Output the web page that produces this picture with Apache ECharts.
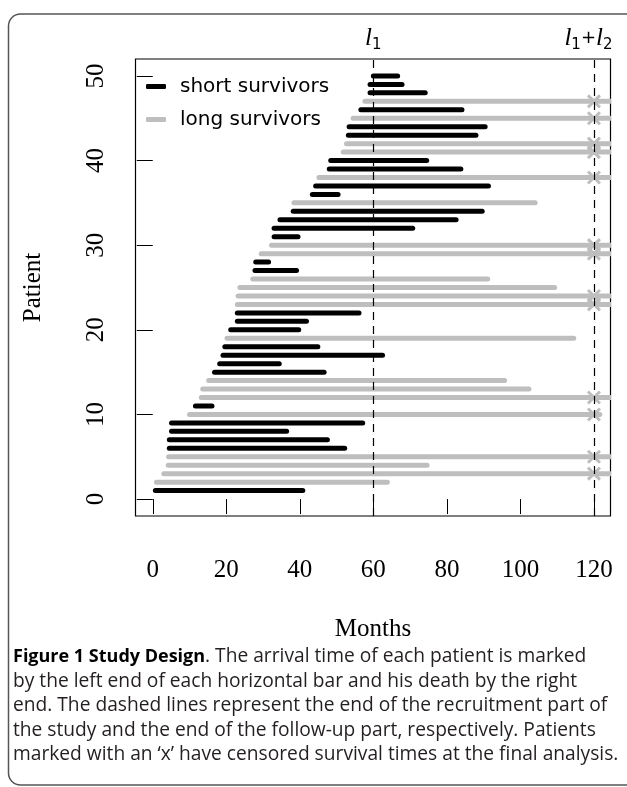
<!DOCTYPE html>
<html>
<head>
<meta charset="utf-8">
<script src="https://cdn.jsdelivr.net/npm/echarts@6/dist/echarts.min.js"></script>
<style>
html,body{margin:0;padding:0;background:#fff;}
#chart{width:627px;height:787px;}
</style>
</head>
<body>
<div id="chart"></div>
<script>
// ---- data ----
const patients = [1,2,3,4,5,6,7,8,9,10,11,12,13,14,15,16,17,18,19,20,21,22,23,24,25,26,27,28,29,30,31,32,33,34,35,36,37,38,39,40,41,42,43,44,45,46,47,48,49,50];
const arrival = [0.7,1.0,3.0,4.2,4.3,4.5,4.5,5.1,5.1,10.0,11.6,13.2,13.6,15.2,16.8,18.2,19.1,19.6,20.2,21.2,23.0,23.0,23.0,23.2,23.7,27.2,27.8,28.0,29.5,32.3,33.0,33.0,34.6,38.2,38.4,43.4,44.3,45.2,48.0,48.4,51.8,52.7,53.2,53.4,54.5,56.6,57.7,59.1,59.1,60.0];
const exitTime = [40.8,63.8,126,74.6,126,52.2,47.5,36.4,57.1,121.6,16.1,126,102.3,95.7,46.6,34.4,62.5,44.9,114.5,39.7,41.8,56.1,126,126,109.3,91.1,39.1,31.5,126,126,39.5,70.7,82.5,89.6,104.0,50.4,91.3,126,83.8,74.5,126,126,87.9,90.4,126,84.1,126,74.1,67.8,66.6];
const survivorGroup = ['S','L','L','L','L','S','S','S','S','L','S','L','L','L','S','S','S','S','L','S','S','S','L','L','L','L','S','S','L','L','S','S','S','S','L','S','S','L','S','S','L','L','S','S','L','S','L','S','S','S'];
const censored = [0,0,1,0,1,0,0,0,0,1,0,1,0,0,0,0,0,0,0,0,0,0,1,1,0,0,0,0,1,1,0,0,0,0,0,0,0,1,0,0,1,1,0,0,1,0,1,0,0,0];
const censorTime = 120;
const recruitEnd = 60;
const followEnd = 120;
const xTicks = [0,20,40,60,80,100,120];
const yTicks = [0,10,20,30,40,50];

// ---- build series data ----
const shortData = [], longData = [], markData = [];
patients.forEach((p, i) => {
  const item = [arrival[i], exitTime[i], p];
  if (survivorGroup[i] === 'S') shortData.push(item); else longData.push(item);
  if (censored[i]) markData.push([censorTime, p]);
});

const serif = 'Liberation Serif';
const BLACK = '#000000', GRAY = '#bebebe';

function barItem(params, api) {
  const a = api.coord([api.value(0), api.value(2)]);
  const b = api.coord([api.value(1), api.value(2)]);
  return {
    type: 'line',
    shape: {x1: a[0], y1: a[1], x2: b[0], y2: b[1]},
    style: {stroke: api.visual('color'), lineWidth: 5, lineCap: 'round'}
  };
}
function crossItem(params, api) {
  const c = api.coord([api.value(0), api.value(1)]);
  const h = 6;
  return {
    type: 'group',
    children: [
      {type: 'line', shape: {x1: c[0]-h, y1: c[1]-h, x2: c[0]+h, y2: c[1]+h}, style: {stroke: GRAY, lineWidth: 3}},
      {type: 'line', shape: {x1: c[0]-h, y1: c[1]+h, x2: c[0]+h, y2: c[1]-h}, style: {stroke: GRAY, lineWidth: 3}}
    ]
  };
}

const chart = echarts.init(document.getElementById('chart'), null, {renderer: 'canvas'});
const labelRich = {
  l: {fontFamily: serif, fontStyle: 'italic', fontSize: 25, lineHeight: 30, verticalAlign: 'middle', color: '#000'},
  s: {fontFamily: 'DejaVu Sans', fontSize: 15, lineHeight: 30, verticalAlign: 'bottom', color: '#000'},
  p: {fontFamily: 'DejaVu Sans', fontSize: 18, lineHeight: 30, verticalAlign: 'middle', color: '#000'},
  g: {width: 11, lineHeight: 30}
};

const captionFont = 'Open Sans';
const captionLines = [
  '{b|Figure 1 Study Design}. The arrival time of each patient is marked',
  'by the left end of each horizontal bar and his death by the right',
  'end. The dashed lines represent the end of the recruitment part of',
  'the study and the end of the follow-up part, respectively. Patients',
  'marked with an \u2018x\u2019 have censored survival times at the final analysis.'
];
const captionY = [657, 681.5, 706, 730.5, 755];

const option = {
  backgroundColor: '#ffffff',
  animation: false,
  grid: {
    left: 135.5, right: 16.5, top: 59, bottom: 271,
    show: true, borderColor: '#000', borderWidth: 1.2, backgroundColor: 'transparent',
    outerBoundsMode: 'none', containLabel: false
  },
  legend: {
    orient: 'vertical', left: 146, top: 76, padding: 0,
    itemWidth: 20, itemHeight: 5, itemGap: 12,
    selectedMode: false,
    textStyle: {fontFamily: 'DejaVu Sans', fontSize: 20, color: '#000', lineHeight: 21, padding: [0,0,0,9]},
    data: [
      {name: 'short survivors', icon: 'roundRect'},
      {name: 'long survivors', icon: 'roundRect'}
    ]
  },
  xAxis: {
    type: 'value', min: -4.7, max: 124.5,
    name: 'Months', nameLocation: 'middle', nameGap: 101,
    nameTextStyle: {fontFamily: serif, fontSize: 25, color: '#000'},
    axisLine: {show: false},
    splitLine: {show: false},
    axisTick: {show: true, customValues: xTicks, length: 15, lineStyle: {color: '#000', width: 1}},
    axisLabel: {customValues: xTicks, margin: 42, fontFamily: serif, fontSize: 25, color: '#000'}
  },
  yAxis: {
    type: 'value', min: -2, max: 52,
    name: 'Patient', nameLocation: 'middle', nameGap: 90, nameRotate: 90,
    nameTextStyle: {fontFamily: serif, fontSize: 25, color: '#000'},
    axisLine: {show: false},
    splitLine: {show: false},
    axisTick: {show: true, customValues: yTicks, length: 16, lineStyle: {color: '#000', width: 1}},
    axisLabel: {customValues: yTicks, rotate: 90, margin: 27, fontFamily: serif, fontSize: 25, color: '#000'}
  },
  series: [
    {
      name: 'long survivors', type: 'custom', renderItem: barItem, clip: true,
      itemStyle: {color: GRAY}, encode: {x: [0,1], y: 2}, data: longData, z: 2
    },
    {
      name: 'short survivors', type: 'custom', renderItem: barItem, clip: true,
      itemStyle: {color: BLACK}, encode: {x: [0,1], y: 2}, data: shortData, z: 3
    },
    {
      name: 'censored', type: 'custom', renderItem: crossItem, clip: true,
      itemStyle: {color: GRAY}, encode: {x: 0, y: 1}, data: markData, z: 4
    },
    {
      name: 'phases', type: 'line', data: [], z: 5,
      markLine: {
        silent: true, symbol: ['none','none'], animation: false,
        lineStyle: {color: '#000', width: 1.2, type: [8,6]},
        label: {show: true, position: 'end', distance: 6, color: '#000', rich: labelRich},
        data: [
          {xAxis: recruitEnd, label: {formatter: '{l|l}{s|1}'}},
          {xAxis: followEnd, label: {formatter: '{l|l}{s|1}{p|+}{l|l}{s|2}{g| }'}}
        ]
      }
    }
  ],
  graphic: [
    {
      type: 'rect', silent: true, z: -1,
      shape: {x: 8.5, y: 14, width: 660, height: 771, r: 12},
      style: {fill: 'none', stroke: '#555', lineWidth: 1.5}
    }
  ].concat(captionLines.map((t, i) => ({
    type: 'text', silent: true, left: 13, top: captionY[i] - 13,
    style: {
      text: t, fontFamily: captionFont, fontSize: 19.2, fill: '#231f20', lineHeight: 26,
      rich: {b: {fontFamily: captionFont, fontSize: 18, fontWeight: 'bold', fill: '#000', lineHeight: 26}}
    }
  })))
};
chart.setOption(option);
</script>
</body>
</html>
